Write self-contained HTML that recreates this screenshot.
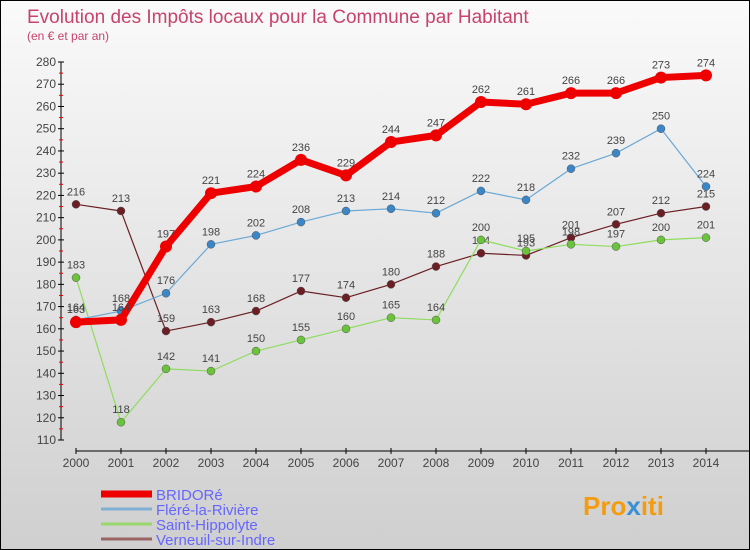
<!DOCTYPE html>
<html><head><meta charset="utf-8"><style>
body{margin:0}
#c{width:748px;height:548px;border:1px solid #000;background:linear-gradient(#fafafa,#cfcfcf);position:relative;font-family:"Liberation Sans",sans-serif;overflow:hidden}
</style></head><body>
<div id="c">
<svg id="s" width="748" height="548" style="position:absolute;left:0;top:0">
<text x="26" y="22" font-size="19" fill="#c8436b">Evolution des Impôts locaux pour la Commune par Habitant</text>
<text x="26" y="39" font-size="12" fill="#c8436b">(en € et par an)</text>
<g id="ax"></g><g id="ser"></g><g id="leg"></g>
<text x="582" y="514" font-size="26" font-weight="bold" fill="#f39c12">Pro<tspan fill="#3a8fd6">x</tspan>iti</text>
</svg>
</div>
<script>
const years=[2000,2001,2002,2003,2004,2005,2006,2007,2008,2009,2010,2011,2012,2013,2014];
const yTicks=[110,120,130,140,150,160,170,180,190,200,210,220,230,240,250,260,270,280];
const seriesNames=["BRIDORé","Fléré-la-Rivière","Saint-Hippolyte","Verneuil-sur-Indre"];
const bridore=[163,164,197,221,224,236,229,244,247,262,261,266,266,273,274];
const flere=[164,168,176,198,202,208,213,214,212,222,218,232,239,250,224];
const saintH=[183,118,142,141,150,155,160,165,164,200,195,198,197,200,201];
const verneuil=[216,213,159,163,168,177,174,180,188,194,193,201,207,212,215];
const NS="http://www.w3.org/2000/svg";
const X=i=>75+i*45;
const Y=v=>439-(v-110)*(378/170);
function mk(tag,a,p){const e=document.createElementNS(NS,tag);for(const k in a)e.setAttribute(k,a[k]);p.appendChild(e);return e;}
const ax=document.getElementById('ax');
let l=mk('line',{x1:60,y1:Y(280),x2:60,y2:Y(110),stroke:'#000'},ax);


yTicks.forEach((v,k)=>{mk('line',{x1:57,x2:63,y1:Y(v),y2:Y(v),stroke:'#000'},ax);
 if(k<yTicks.length-1)mk('line',{x1:58,x2:62,y1:Y(v+5),y2:Y(v+5),stroke:'#e00'},ax);
 const t=mk('text',{x:55,y:Y(v)+4,'font-size':12,fill:'#444','text-anchor':'end'},ax);t.textContent=v;
 
 });
l=mk('line',{x1:75,y1:450,x2:748,y2:450,stroke:'#000'},ax);


years.forEach((y,i)=>{mk('line',{x1:X(i),x2:X(i),y1:447,y2:453,stroke:'#000'},ax);
 const t=mk('text',{x:X(i),y:466,'font-size':12,fill:'#444','text-anchor':'middle'},ax);t.textContent=y;
 
 });
const ser=document.getElementById('ser');
const defs=[[verneuil,'#6b1f24',1.2,4,'#6b1f24'],[saintH,'#8fdc5e',1.2,4,'#6ac33a'],[flere,'#6aa8d6',1.2,4,'#3a86c6'],[bridore,'#ee0000',7,6,'#ee0000']];
const names=['verneuil','saint-hippolyte','flere','bridore'];
defs.forEach((d,si)=>{const vals=d[0];
 const p=mk('polyline',{points:vals.map((v,i)=>X(i)+','+Y(v)).join(' '),fill:'none',stroke:d[1],'stroke-width':d[2],'stroke-linejoin':'round'},ser);
 
 
 vals.forEach((v,i)=>{const c=mk('circle',{cx:X(i),cy:Y(v),r:d[3],fill:d[4],stroke:si==3?'none':'#555','stroke-width':0.5},ser);
  
  
  const t=mk('text',{x:X(i),y:Y(v)-9,'font-size':11,fill:'#444','text-anchor':'middle'},ser);t.textContent=v;
  
  });});
const leg=document.getElementById('leg');
const lc=['#ee0000','#7fb0d4','#9ad86e','#9a6464'],lw=[7,3,3,3];
seriesNames.forEach((n,i)=>{const y=493+i*15;
 const li=mk('line',{x1:100,x2:151,y1:y,y2:y,stroke:lc[i],'stroke-width':lw[i]},leg);
 
 
 const t=mk('text',{x:155,y:y+6,'font-size':15,fill:'#6666ff'},leg);t.textContent=n;
 
 });
</script>
</body></html>
